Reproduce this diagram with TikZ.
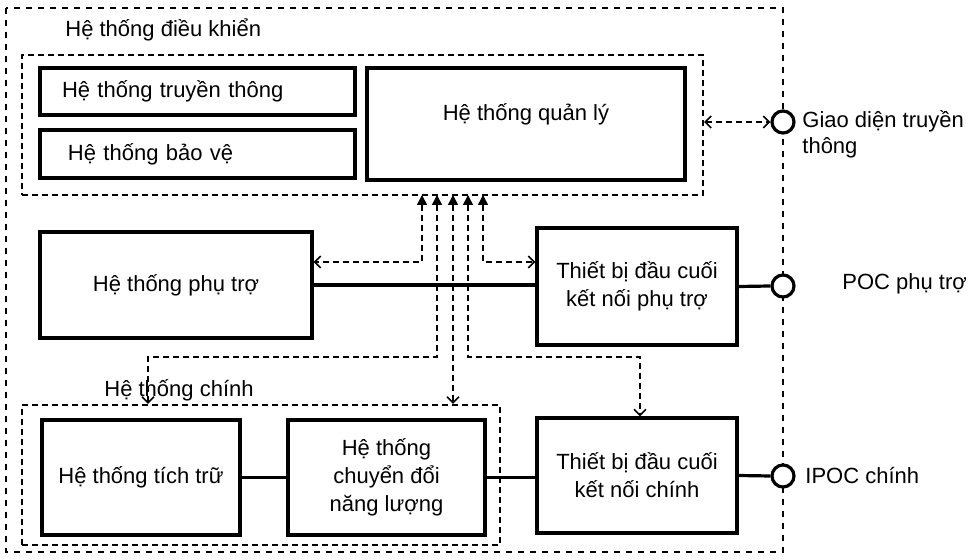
\documentclass[tikz,border=0pt]{standalone}
\usepackage{fontspec}
\setmainfont{Liberation Sans}
\usetikzlibrary{positioning, arrows.meta}

\begin{document}
\begin{tikzpicture}[x=0.5pt, y=-0.5pt]
  \tikzset{
    box/.style={
      draw,
      line width=1.6pt,
      inner sep=0pt,
      align=center,
      fill=white,
      font=\fontsize{11}{14}\selectfont
    },
    group/.style={
      draw,
      densely dashed,
      line width=1.1pt,
      inner sep=0pt
    },
    port/.style={
      draw,
      circle,
      line width=1.6pt,
      minimum size=11pt,
      inner sep=0pt,
      fill=white
    },
    caption/.style={
      font=\fontsize{11}{13}\selectfont,
      align=left,
      inner sep=0pt
    },
    signal/.style={
      densely dashed,
      line width=0.8pt,
      {Triangle[length=5pt,width=5pt]}-{Straight Barb[length=3pt,width=6pt]}
    },
    power/.style={
      line width=1.6pt
    }
  }

  % Outer border
  \useasboundingbox (0,0) rectangle (975,560);
  \draw[dashed, dash pattern=on 3pt off 3pt, line width=1.4pt] (6,8) rectangle (783,552);

  % Control system
  \node[caption, anchor=west] at (65,30) (ctrltitle) {Hệ thống điều khiển};
  \node[group, minimum width=340.5pt, minimum height=70pt] at (362.5,125) (ctrl) {};
  \node[box, text width=135.5pt, inner xsep=11pt, minimum height=23.5pt, align=left] at (197.5,91.5) (truyen) {Hệ thống truyền thông};
  \node[box, text width=129.5pt, inner xsep=14pt, minimum height=24pt, align=left] at (197.5,154) (baove) {Hệ thống bảo vệ};
  \node[box, minimum width=159pt, minimum height=56pt, text depth=12pt] at (526,124) (quanly) {Hệ thống quản lý};

  % Auxiliary system
  \node[box, minimum width=136pt, minimum height=53pt] at (176,285) (phutro) {Hệ thống phụ trợ};
  \node[box, minimum width=100pt, minimum height=58.5pt] at (637,286.5) (tbphu) {Thiết bị đầu cuối\\kết nối phụ trợ};

  % Main system
  \node[caption, anchor=west] at (104,390) (chinhtitle) {Hệ thống chính};
  \node[group, minimum width=239pt, minimum height=70pt] at (261,475) (hechinh) {};
  \node[box, minimum width=99pt, minimum height=57.5pt] at (141,477.5) (tichtru) {Hệ thống tích trữ};
  \node[box, minimum width=98.5pt, minimum height=57.5pt] at (386.5,477.5) (chuyendoi) {Hệ thống\\chuyển đổi\\năng lượng};
  \node[box, minimum width=100pt, minimum height=57.5pt] at (637,475.5) (tbchinh) {Thiết bị đầu cuối\\kết nối chính};

  % Ports on the border
  \node[port] at (783,122) (giaodien) {};
  \node[port] at (783,286) (pocphu) {};
  \node[port] at (783,476) (ipoc) {};
  \node[caption, anchor=west] at (802,134) {Giao diện truyền\\thông};
  \node[caption, anchor=west] at (842,284) {POC phụ trợ};
  \node[caption, anchor=west] at (805,476) {IPOC chính};

  % Power lines
  \draw[power] (phutro.east) -- (phutro.east -| tbphu.west);
  \draw[power] (tbphu.east) -- (pocphu.west);
  \draw[power] (tichtru.east) -- (chuyendoi.west);
  \draw[power] (chuyendoi.east) -- (chuyendoi.east -| tbchinh.west);
  \draw[power] (tbchinh.east) -- (ipoc.west);

  % Signal lines from the control system
  \foreach \i/\x in {1/422, 2/437, 3/453, 4/468, 5/483}
    \coordinate (up\i) at (\x,195);
  \coordinate (k1) at (422,262);
  \coordinate (k2) at (437,357);
  \coordinate (k2b) at (148,357);
  \coordinate (k4) at (468,357);
  \coordinate (k4b) at (640,357);
  \coordinate (k5) at (483,262);

  \draw[signal, {Straight Barb[length=3pt,width=6pt]}-{Straight Barb[length=3pt,width=6pt]}] (ctrl.east |- giaodien.west) -- (giaodien.west);
  \draw[signal] (up1) -- (k1) -- (k1 -| phutro.east);
  \draw[signal] (up2) -- (k2) -- (k2b) -- (k2b |- hechinh.north);
  \draw[signal] (up3) -- (up3 |- hechinh.north);
  \draw[signal] (up4) -- (k4) -- (k4b) -- (k4b |- tbchinh.north);
  \draw[signal] (up5) -- (k5) -- (k5 -| tbphu.west);

\end{tikzpicture}
\end{document}
